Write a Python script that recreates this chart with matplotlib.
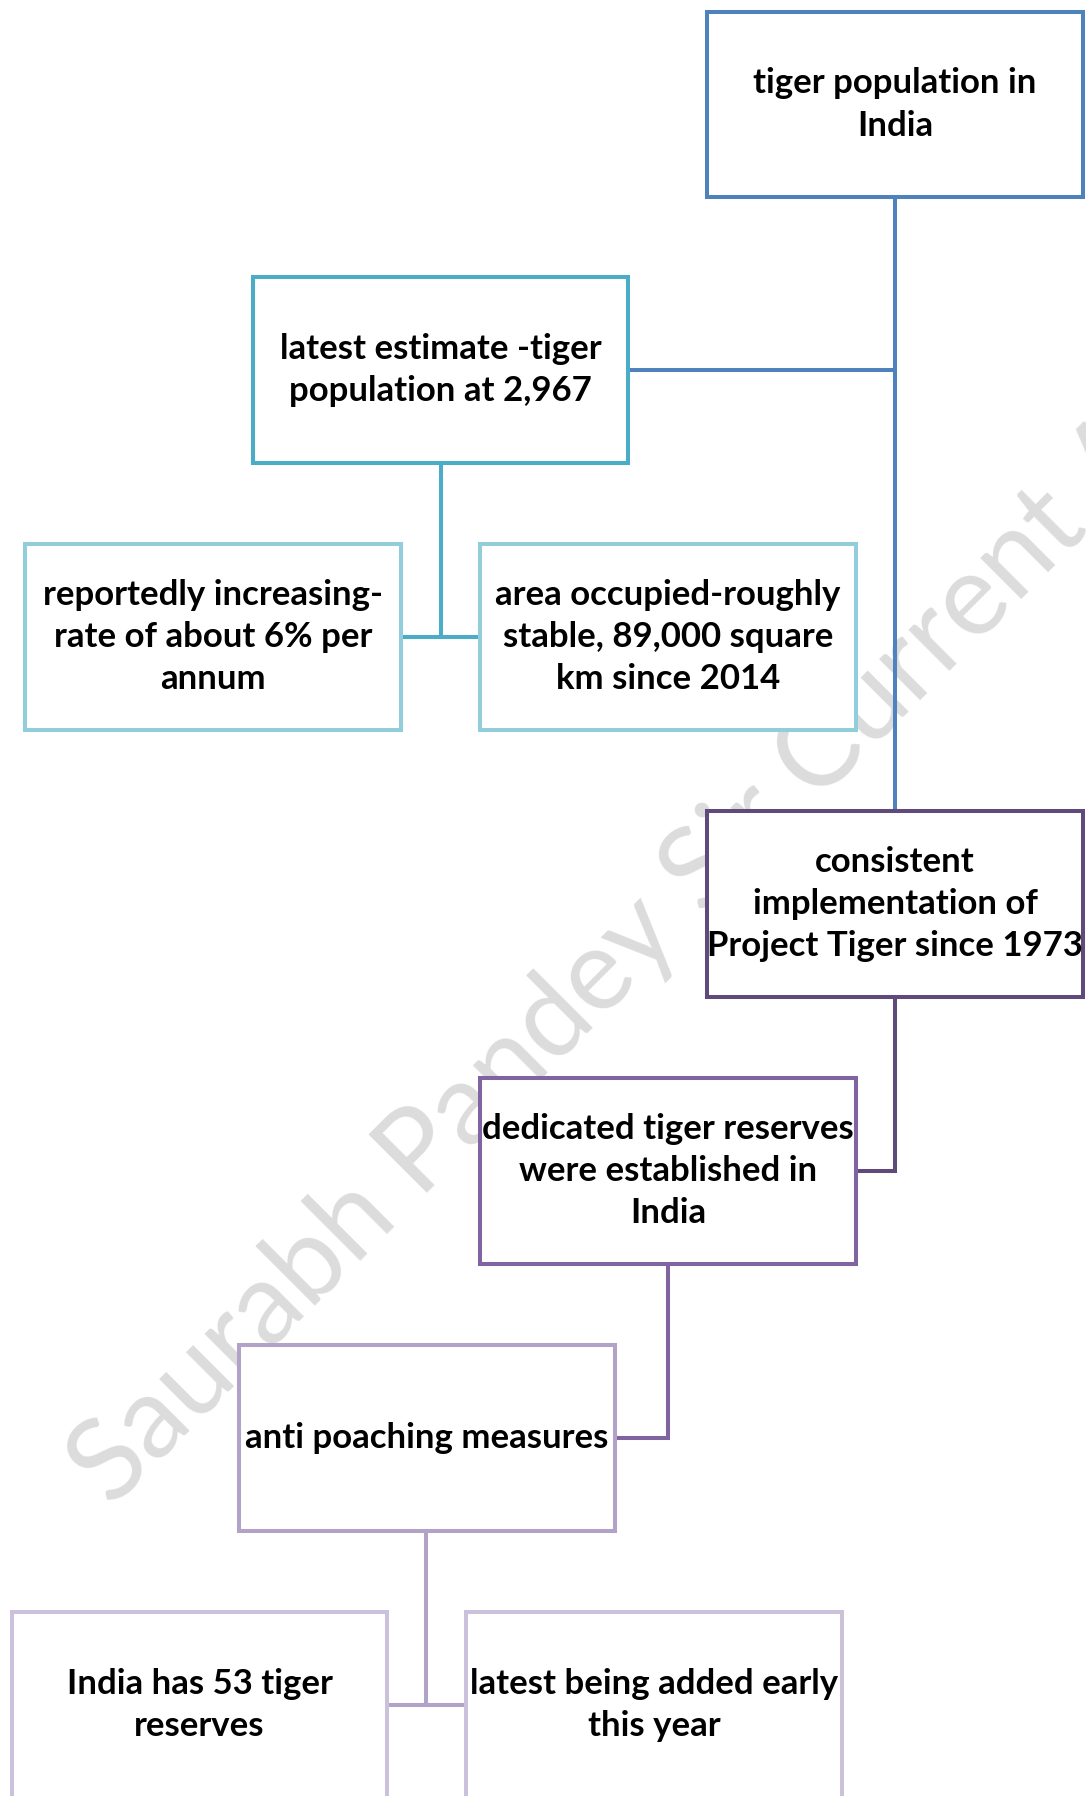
import matplotlib
matplotlib.use("Agg")
import matplotlib.pyplot as plt
from matplotlib.patches import Rectangle

# box texts, top to bottom
labels = [
    "tiger population in\nIndia",
    "latest estimate -tiger\npopulation at 2,967",
    "reportedly increasing-\nrate of about 6% per\nannum",
    "area occupied-roughly\nstable, 89,000 square\nkm since 2014",
    "consistent\nimplementation of\nProject Tiger since 1973",
    "dedicated tiger reserves\nwere established in\nIndia",
    "anti poaching measures",
    "India has 53 tiger\nreserves",
    "latest being added early\nthis year",
]
edge_colors = ["#4F81BD", "#4BACC6", "#92CDDC", "#92CDDC", "#604A7B",
               "#8064A2", "#B2A2C7", "#CCC1DA", "#CCC1DA"]
watermark = "Saurabh Pandey Sir Current Affairs"

# layout in pixels (x0, y0, x1, y1)
W, H = 1086, 1796
boxes = [
    (707, 12, 1083, 197),
    (253, 277, 628, 463),
    (25, 544, 401, 730),
    (480, 544, 856, 730),
    (707, 811, 1083, 997),
    (480, 1078, 856, 1264),
    (239, 1345, 615, 1531),
    (12, 1612, 387, 1798),
    (466, 1612, 842, 1798),
]
# connectors: (points, color)
links = [
    ([(895, 197), (895, 811)], "#4F81BD"),
    ([(628, 370), (895, 370)], "#4F81BD"),
    ([(441, 463), (441, 637)], "#4BACC6"),
    ([(401, 637), (480, 637)], "#4BACC6"),
    ([(895, 997), (895, 1171), (856, 1171)], "#604A7B"),
    ([(668, 1264), (668, 1438), (615, 1438)], "#8064A2"),
    ([(426, 1531), (426, 1705)], "#B2A2C7"),
    ([(387, 1705), (466, 1705)], "#B2A2C7"),
]

fig = plt.figure(figsize=(W / 100, H / 100), dpi=100)
ax = fig.add_axes([0, 0, 1, 1])
ax.set_xlim(0, W)
ax.set_ylim(H, 0)
ax.axis("off")

ax.text(112, 1509, watermark, rotation=45, rotation_mode="anchor",
        ha="left", va="baseline", fontsize=82, family="Lato",
        weight="normal", color="#DCDCDC", zorder=0)

for pts, col in links:
    xs, ys = zip(*pts)
    ax.plot(xs, ys, color=col, lw=2.9, solid_capstyle="butt",
            solid_joinstyle="miter", zorder=1)

for (x0, y0, x1, y1), lab, col in zip(boxes, labels, edge_colors):
    ax.add_patch(Rectangle((x0, y0), x1 - x0, y1 - y0, facecolor="white",
                           edgecolor=col, lw=2.9, zorder=2))
    ax.text((x0 + x1) / 2, (y0 + y1) / 2, lab, ha="center", va="center",
            multialignment="center", fontsize=25, weight="bold",
            family="Lato", linespacing=1.4, zorder=3)

fig.savefig("out.png", dpi=100)
